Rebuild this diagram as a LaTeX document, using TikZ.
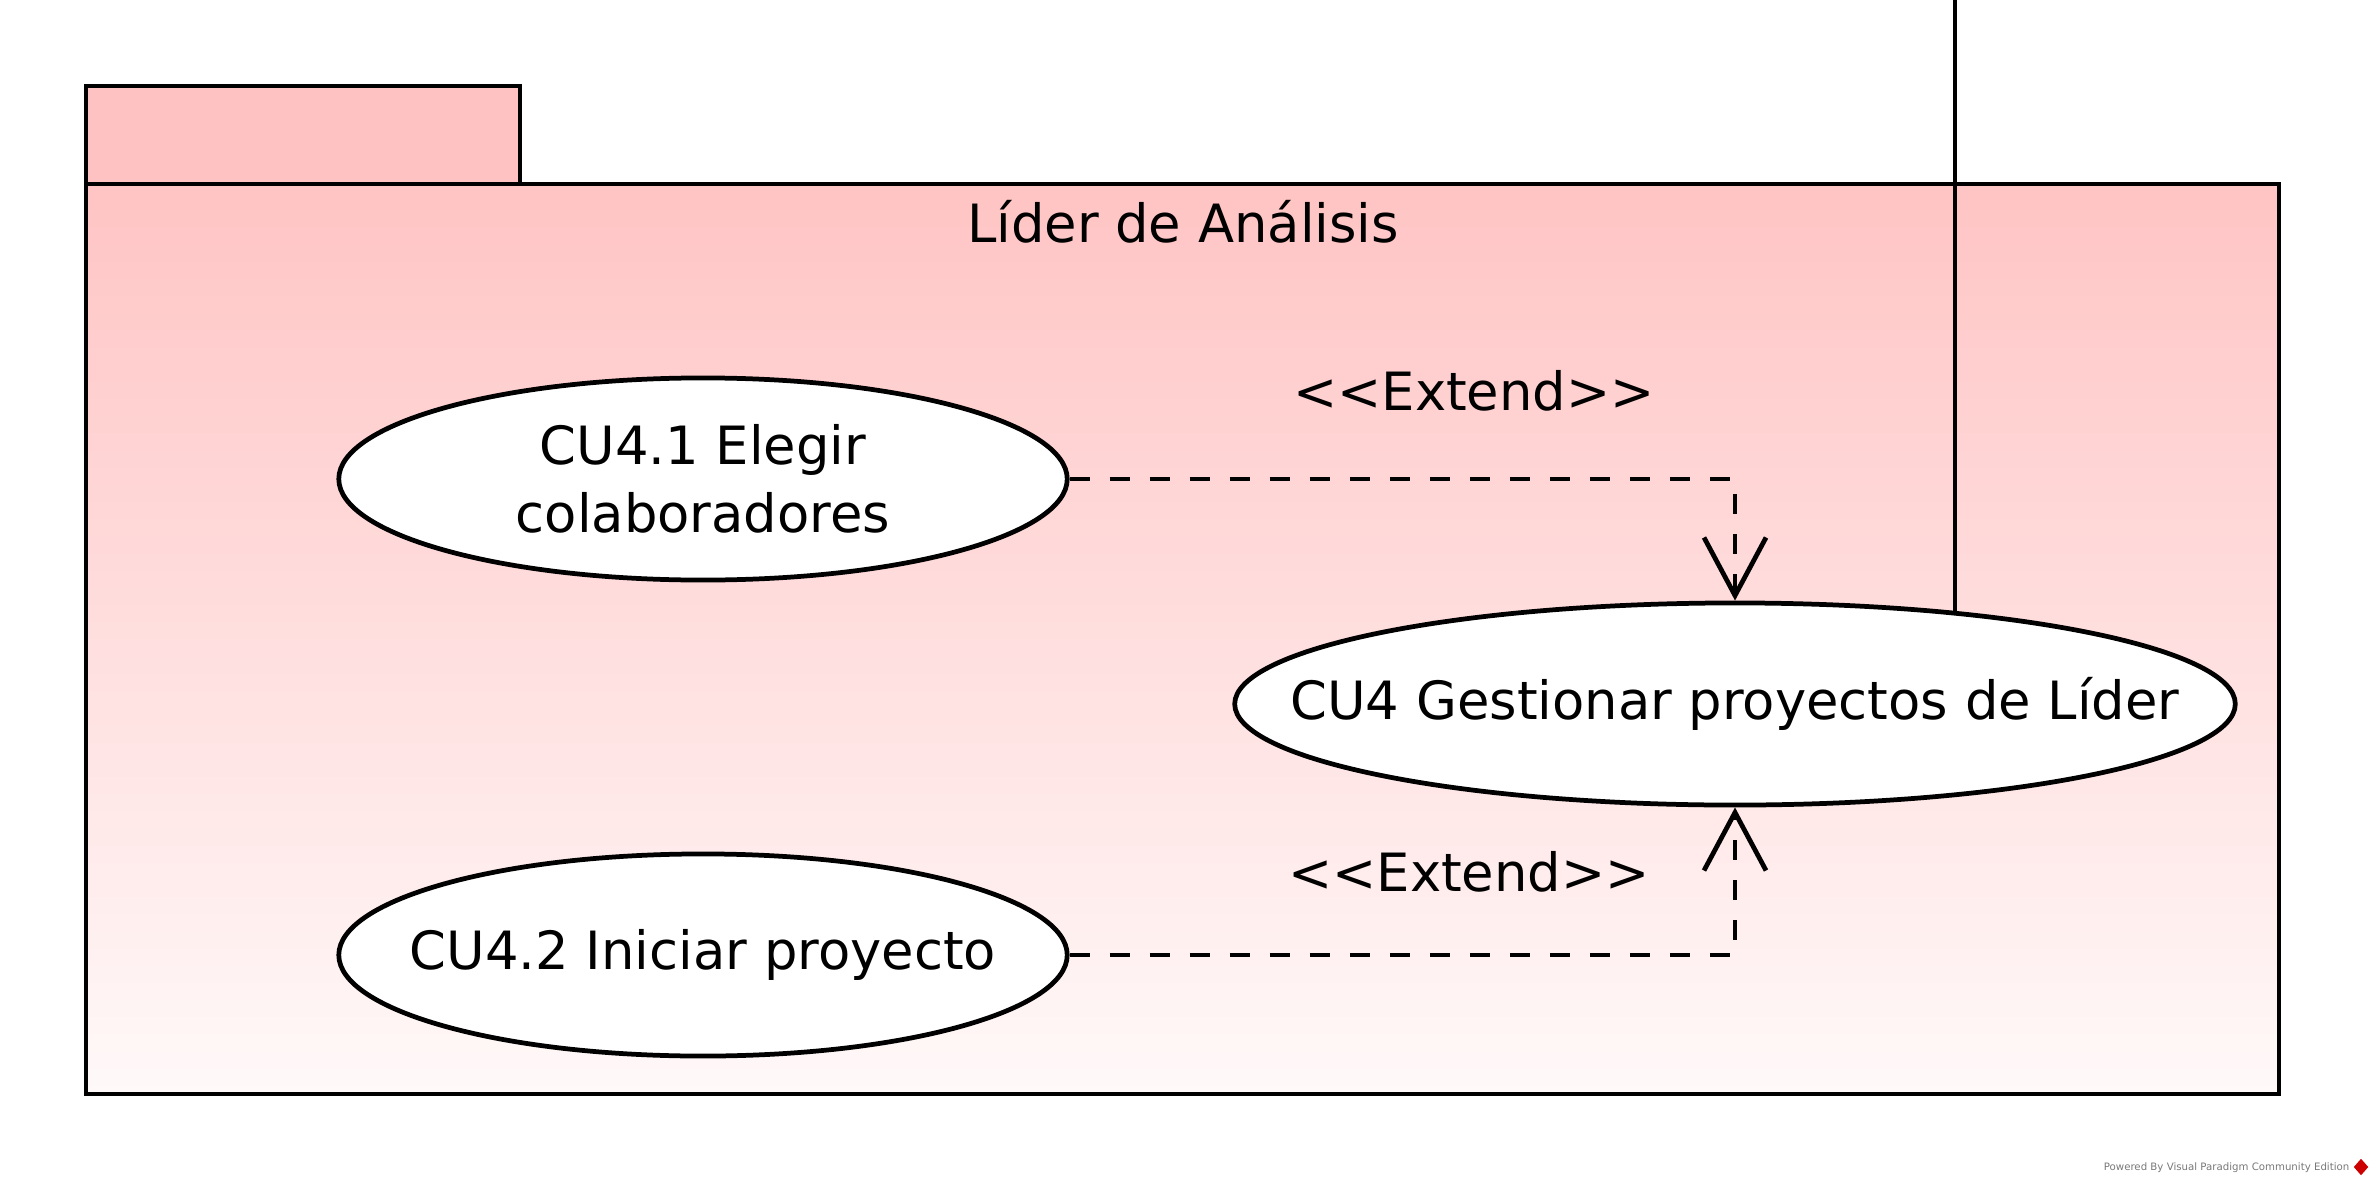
\documentclass[tikz,border=0pt]{standalone}
\usepackage{fontspec}
\setmainfont{DejaVu Sans}
\usetikzlibrary{shapes.geometric,arrows.meta}
\pgfdeclarelayer{pkg}
\pgfdeclarelayer{wire}
\pgfsetlayers{pkg,wire,main}
\definecolor{tabpink}{RGB}{255,194,194}
\definecolor{toppink}{RGB}{255,196,196}
\definecolor{botpink}{RGB}{255,249,249}
\definecolor{footgray}{RGB}{120,120,120}
\tikzset{
  uc/.style={ellipse, draw=black, line width=1.35pt, fill=white, inner sep=0pt,
    minimum width=7.28cm, minimum height=2.02cm},
  uctext/.style={align=center, inner sep=0pt, font=\fontsize{15}{19.5}\selectfont},
  ext/.style={dash pattern=on 0.2cm off 0.2cm, line width=1.35pt,
    -{Straight Barb[length=0.58cm,width=0.62cm,line width=1.35pt]}},
  lbl/.style={font=\fontsize{15}{18}\selectfont, inner sep=0pt},
  border/.style={draw=black, line width=1.25pt}
}
\begin{document}
\begin{tikzpicture}[x=0.01cm,y=-0.01cm]
\useasboundingbox (0,0) rectangle (2370,1185);
% package
\begin{pgfonlayer}{pkg}
\shade[top color=toppink, bottom color=botpink] (86,184) rectangle (2279,1094);
\fill[tabpink] (86,86) rectangle (520,184);
\draw[border] (86,184) rectangle (2279,1094);
\draw[border] (86,184) -- (86,86) -- (520,86) -- (520,184);
\end{pgfonlayer}
\node[lbl] (title) at (1183,222) {Líder de Análisis};
% use cases
\node[uc] (cu41) at (703,479) {};
\node[uctext] (t41) at (cu41.center) {CU4.1 Elegir\\colaboradores};
\node[uc, minimum width=10cm] (cu4) at (1735,704) {};
\node[uctext] (t4) at (cu4.center) {CU4 Gestionar proyectos de Líder};
\node[uc] (cu42) at (703,955) {};
\node[uctext] (t42) at (cu42.center) {CU4.2 Iniciar proyecto};
% actor line (ends hidden under the use case)
\coordinate (top) at (1955,0);
\begin{pgfonlayer}{wire}
\draw[line width=1.35pt] (top) -- (top |- cu4.center);
\end{pgfonlayer}
% extends
\draw[ext] (cu41.east) -| (cu4.north);
\draw[ext] (cu42.east) -| (cu4.south);
\node[lbl] (e1) at (1474,391) {<{}<Extend>{}>};
\node[lbl] (e2) at (1469,872) {<{}<Extend>{}>};
% footer
\node[anchor=east, text=footgray, font=\fontsize{2.9}{3.5}\selectfont, inner sep=0pt] (foot) at (2350,1168) {Powered By Visual Paradigm Community Edition};
\node[diamond, fill=red!80!black, minimum width=0.15cm, minimum height=0.17cm, inner sep=0pt] (logo) at (2361,1167) {};
\end{tikzpicture}
\end{document}
